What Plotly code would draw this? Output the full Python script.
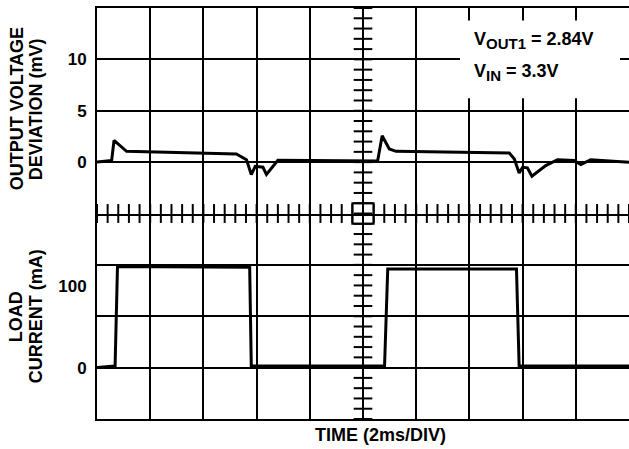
import plotly.graph_objects as go
from plotly.subplots import make_subplots

# ---------------- data ----------------
# Output voltage deviation (top trace)
time_v_ms = [0.0, 0.55, 0.64, 1.11, 5.24, 5.62, 5.80, 5.95, 6.24, 6.37, 6.80,
             10.55, 10.72, 10.99, 11.24, 15.50, 15.69, 15.87, 16.00, 16.18,
             16.35, 16.87, 17.31, 17.93, 18.19, 18.56, 20.0]
vout_dev_mv = [0.0, 0.15, 2.12, 1.05, 0.80, 0.24, -1.21, -0.41, -0.50, -1.21, 0.17,
               0.10, 2.57, 1.28, 1.05, 0.89, 0.31, -1.05, -0.50, -0.56,
               -1.38, -0.34, 0.24, 0.17, -0.24, 0.24, -0.02]

# Load current (bottom trace)
time_i_ms = [0.0, 0.68, 0.77, 5.74, 5.80, 10.81, 10.93, 15.77, 15.87, 20.0]
load_ma = [0, 2, 124, 123, 2, 2, 121, 121, 2, 2]

# axis ticks / labels
v_tickvals = [-5, 0, 5, 10, 15]
v_ticktext = ["", "0", "5", "10", ""]
ma_per_div = 63
i_gridvals = [0, ma_per_div, 2 * ma_per_div]
i_tickvals = [0, 100]
i_ticktext = ["0", "100"]
x_gridvals = [0, 2, 4, 6, 8, 10, 12, 14, 16, 18]

FONT = "Liberation Sans, Arial, sans-serif"
FS = 18
TFS = 17

fig = make_subplots(rows=2, cols=1, shared_xaxes=True, vertical_spacing=0)

fig.add_trace(go.Scatter(x=time_v_ms, y=vout_dev_mv, mode="lines",
                         line=dict(color="black", width=3), hoverinfo="skip"),
              row=1, col=1)
fig.add_trace(go.Scatter(x=time_i_ms, y=load_ma, mode="lines",
                         line=dict(color="black", width=3), hoverinfo="skip"),
              row=2, col=1)

xcommon = dict(range=[0, 20], tickvals=x_gridvals, showticklabels=False, ticks="",
               showgrid=True, gridcolor="black", gridwidth=2, zeroline=False,
               showline=True, linecolor="black", linewidth=2)
fig.update_layout(xaxis=dict(xcommon, mirror=True), xaxis2=dict(xcommon, mirror=False))

tickfont = dict(family=FONT, size=TFS, color="black", weight="bold")
fig.update_layout(
    yaxis=dict(domain=[0.5, 1], range=[-5, 15], tickvals=v_tickvals, ticktext=v_ticktext,
               showgrid=True, gridcolor="black", gridwidth=2, zeroline=False,
               showline=True, linecolor="black", linewidth=2,
               ticks="outside", ticklen=5, tickcolor="rgba(0,0,0,0)", tickfont=tickfont),
    yaxis2=dict(domain=[0, 0.5], range=[-ma_per_div, 3 * ma_per_div],
                tickvals=i_tickvals, ticktext=i_ticktext,
                showgrid=False, zeroline=False,
                showline=True, linecolor="black", linewidth=2,
                ticks="outside", ticklen=5, tickcolor="rgba(0,0,0,0)", tickfont=tickfont,
                minor=dict(tickvals=i_gridvals, ticks="", showgrid=True,
                           gridcolor="black", gridwidth=2)),
)

PLOT_TOP, PLOT_H = 7.5, 412.0


def py(pix):
    """pixel row -> paper fraction (for decorative items only)"""
    return 1 - (pix - PLOT_TOP) / PLOT_H


shapes = []
# tick marks on the horizontal centre line
for i in range(51):
    xv = i * 0.4
    shapes.append(dict(type="line", xref="x", yref="paper", x0=xv, x1=xv,
                       y0=0.5 - 0.023, y1=0.5 + 0.023, line=dict(color="black", width=2)))
# tick marks on the vertical centre line
for j in range(41):
    yv = j * 0.025
    shapes.append(dict(type="line", xref="x", yref="paper", x0=10 - 0.35, x1=10 + 0.35,
                       y0=yv, y1=yv, line=dict(color="black", width=2)))
# centre box
shapes.append(dict(type="rect", xref="x", yref="paper", x0=9.6, x1=10.4, y0=0.475, y1=0.525,
                   line=dict(color="black", width=2)))
# white box behind conditions text
shapes.append(dict(type="rect", xref="paper", yref="paper", x0=0.6823, x1=0.9831,
                   y0=0.7803, y1=0.9697, fillcolor="white", line=dict(width=0)))

annos = []
tf = dict(family=FONT, size=FS, color="black")
sub = '<sub><span style="font-size:15px">%s</span></sub>'
annos.append(dict(xref="paper", yref="paper", x=0.705, y=0.921, xanchor="left", yanchor="middle",
                  text="<b>V" + sub % "OUT1" + " = 2.84V</b>", showarrow=False, font=tf))
annos.append(dict(xref="paper", yref="paper", x=0.705, y=0.842, xanchor="left", yanchor="middle",
                  text="<b>V" + sub % "IN" + " = 3.3V</b>", showarrow=False, font=tf))
# axis titles
for txt, xp, yp in [("OUTPUT VOLTAGE", 17, 109), ("DEVIATION (mV)", 36, 109),
                    ("LOAD", 15.5, 317), ("CURRENT (mA)", 35.5, 317)]:
    annos.append(dict(xref="paper", yref="paper", x=(xp - 97) / 532, y=py(yp),
                      xanchor="center", yanchor="middle", textangle=-90,
                      text="<b>" + txt + "</b>", showarrow=False, font=tf))
annos.append(dict(xref="paper", yref="paper", x=(380 - 97) / 532, y=py(436),
                  xanchor="center", yanchor="middle", text="<b>TIME (2ms/DIV)</b>",
                  showarrow=False, font=tf))

fig.update_layout(
    width=629, height=449,
    margin=dict(l=97, r=0, t=7.5, b=29.5),
    paper_bgcolor="white", plot_bgcolor="white",
    showlegend=False,
    shapes=shapes, annotations=annos,
    font=dict(family=FONT, color="black"),
)

fig.write_html("out.html", config={"displayModeBar": False},
               post_script="document.body.style.margin='0px';")
